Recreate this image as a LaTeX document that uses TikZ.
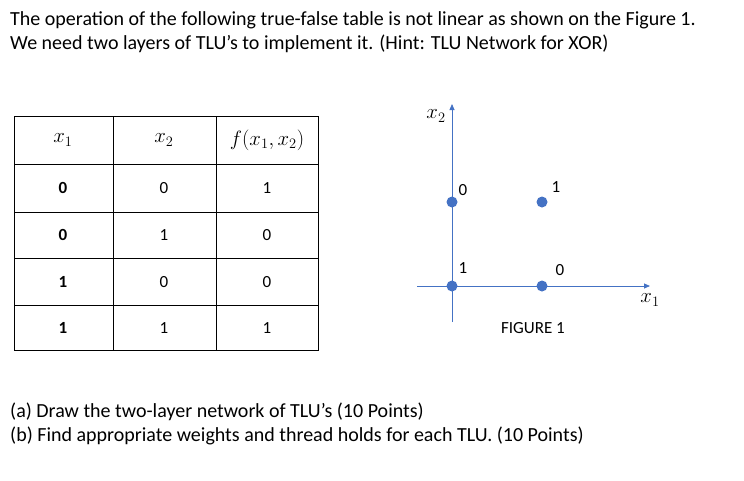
\documentclass[tikz,border=0pt]{standalone}
\usepackage{fix-cm}
\usepackage{fontspec}
\setmainfont{Carlito}
\usetikzlibrary{arrows.meta}
\definecolor{office}{RGB}{68,114,196}

\begin{document}
\begin{tikzpicture}[x=1pt,y=-1pt,font=\fontsize{17}{20}\selectfont]

\tikzstyle{cell} = [anchor=center]
\tikzstyle{mathlbl} = [font=\fontsize{20.74}{24}\selectfont]
\tikzstyle{axis} = [draw=office, line width=0.8pt, -{Triangle[length=6pt,width=5pt]}]
\tikzstyle{dot} = [circle, fill=office, inner sep=0pt, minimum size=11pt]
\tikzstyle{para} = [anchor=west, inner sep=0pt, font=\fontsize{20}{24}\selectfont]

\useasboundingbox (0,0) rectangle (744,480);

% text above and below
\node (L1) [para] at (10,20) {The operation of the following true-false table is not linear as shown on the Figure 1.};
\node (L2) [para] at (10,44) {We need two layers of TLU’s to implement it. (Hint: TLU Network for XOR)};
\node (Qa) [para] at (10,412) {(a) Draw the two-layer network of TLU’s (10 Points)};
\node (Qb) [para] at (10,436) {(b) Find appropriate weights and thread holds for each TLU. (10 Points)};

% table
\draw (14,116) rectangle (318,350);
\foreach \x in {113,216} \draw (\x,116) -- (\x,350);
\foreach \y in {164,212,258,305} \draw (14,\y) -- (318,\y);
\node (h1) [cell, mathlbl] at (63,140) {$x_1$};
\node (h2) [cell, mathlbl] at (164,140) {$x_2$};
\node (h3) [cell, mathlbl] at (267,140) {$f(x_1,x_2)$};
\foreach \y/\a/\b/\c in {188/0/0/1, 235/0/1/0, 282/1/0/0, 328/1/1/1} {
  \node [cell] at (63,\y) {\textbf{\a}};
  \node [cell] at (164,\y) {\b};
  \node [cell] at (267,\y) {\c};
}

% figure 1
\coordinate (O) at (452,286);
\coordinate (xend) at (650,286);
\coordinate (yend) at (452,104);
\draw [axis] (417,286) -- (xend);
\draw [axis] (452,322) -- (yend);
\node (x1) [mathlbl] at (650,300) {$x_1$};
\node (x2) [mathlbl] at (436,116) {$x_2$};
\node (p00) [dot] at (452,286) {};
\node (p10) [dot] at (542,286) {};
\node (p01) [dot] at (452,202) {};
\node (p11) [dot] at (542,202) {};
\node (v00) at (463,268) {1};
\node (v10) at (560,270) {0};
\node (v01) at (463,190) {0};
\node (v11) at (556,187) {1};
\node (cap) at (533,328) {FIGURE 1};

\end{tikzpicture}
\end{document}
